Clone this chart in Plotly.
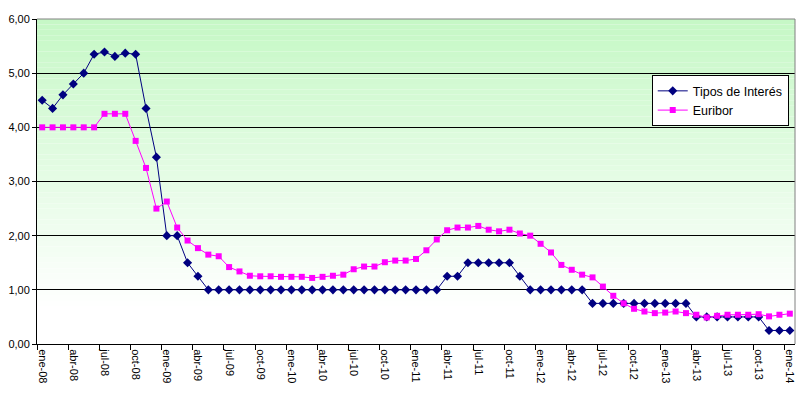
import plotly.graph_objects as go

meses = ["ene", "feb", "mar", "abr", "may", "jun", "jul", "ago", "sep", "oct", "nov", "dic"]
categorias = [f"{meses[m]}-{y:02d}" for y in range(8, 14) for m in range(12)] + ["ene-14"]

tipos = [4.50, 4.35, 4.60, 4.80, 5.00, 5.35, 5.39, 5.31, 5.37, 5.35,
         4.35, 3.45, 2.00, 2.00, 1.50, 1.25] + [1.00] * 23 + \
        [1.25, 1.25, 1.50, 1.50, 1.50, 1.50, 1.50, 1.25] + [1.00] * 6 + \
        [0.75] * 10 + [0.50] * 7 + [0.25] * 3

euribor = [4.00, 4.00, 4.00, 4.00, 4.00, 4.00, 4.25, 4.25, 4.25, 3.75,
           3.25, 2.50, 2.63, 2.15, 1.91, 1.77, 1.65, 1.62, 1.42, 1.34,
           1.26, 1.25, 1.25, 1.24, 1.24, 1.24, 1.22, 1.24, 1.26, 1.28,
           1.38, 1.43, 1.43, 1.51, 1.54, 1.54, 1.57, 1.73, 1.93, 2.10,
           2.15, 2.15, 2.18, 2.11, 2.08, 2.11, 2.04, 2.00, 1.85, 1.69,
           1.46, 1.37, 1.28, 1.23, 1.06, 0.89, 0.75, 0.65, 0.60, 0.57,
           0.58, 0.60, 0.57, 0.54, 0.49, 0.52, 0.54, 0.54, 0.54, 0.55,
           0.51, 0.54, 0.56]

fig = go.Figure()
fig.add_trace(go.Scatter(
    x=categorias, y=tipos, name="Tipos de Interés", mode="lines+markers",
    line=dict(color="#000080", width=1),
    marker=dict(symbol="diamond", size=7, color="#000080")))
fig.add_trace(go.Scatter(
    x=categorias, y=euribor, name="Euribor", mode="lines+markers",
    line=dict(color="#FF00FF", width=1),
    marker=dict(symbol="square", size=6, color="#FF00FF")))

# gradient background
shapes = []
n = 60
top = (198, 248, 198)
for k in range(n):
    g = k / n
    c = tuple(int(round(top[j] + (255 - top[j]) * min(1, g / 0.88))) for j in range(3))
    shapes.append(dict(type="rect", xref="paper", yref="paper",
                       x0=0, x1=1, y0=1 - (k + 1) / n, y1=1 - k / n,
                       fillcolor=f"rgb{c}", line=dict(width=0), layer="below"))
# grey top and right border
shapes.append(dict(type="line", xref="paper", yref="paper", x0=0, x1=1, y0=1, y1=1,
                   line=dict(color="#808080", width=1)))
shapes.append(dict(type="line", xref="paper", yref="paper", x0=1, x1=1, y0=0, y1=1,
                   line=dict(color="#808080", width=1)))

fig.update_layout(
    width=802, height=395,
    margin=dict(l=37, r=7, t=19, b=51, autoexpand=False),
    paper_bgcolor="white", plot_bgcolor="white",
    separators=",.",
    font=dict(family="Liberation Sans, Arial, sans-serif", size=11, color="black"),
    shapes=shapes,
    showlegend=True,
    legend=dict(x=0.811, y=0.827, xanchor="left", yanchor="top",
                bgcolor="white", bordercolor="black", borderwidth=1,
                font=dict(size=12.5), tracegroupgap=0,
                entrywidth=74, entrywidthmode="pixels"),
    xaxis=dict(type="category", categoryorder="array", categoryarray=categorias,
               range=[-0.5, len(categorias) - 0.5],
               dtick=3, tickson="boundaries", ticks="outside", ticklen=5,
               tickcolor="black", tickangle=90, showgrid=False,
               showline=True, linecolor="black", linewidth=1,
               ticklabelstandoff=2, tickfont=dict(size=11)),
    yaxis=dict(range=[0, 6], dtick=1, tickformat=".2f", ticks="outside",
               ticklen=4, tickcolor="black", showgrid=True, gridcolor="black",
               gridwidth=1, showline=True, linecolor="black", linewidth=1,
               zeroline=False, tickfont=dict(size=11)),
)

fig.write_html("out.html", config={"displayModeBar": False},
               post_script="document.body.style.margin='0';document.body.style.overflow='hidden';")
